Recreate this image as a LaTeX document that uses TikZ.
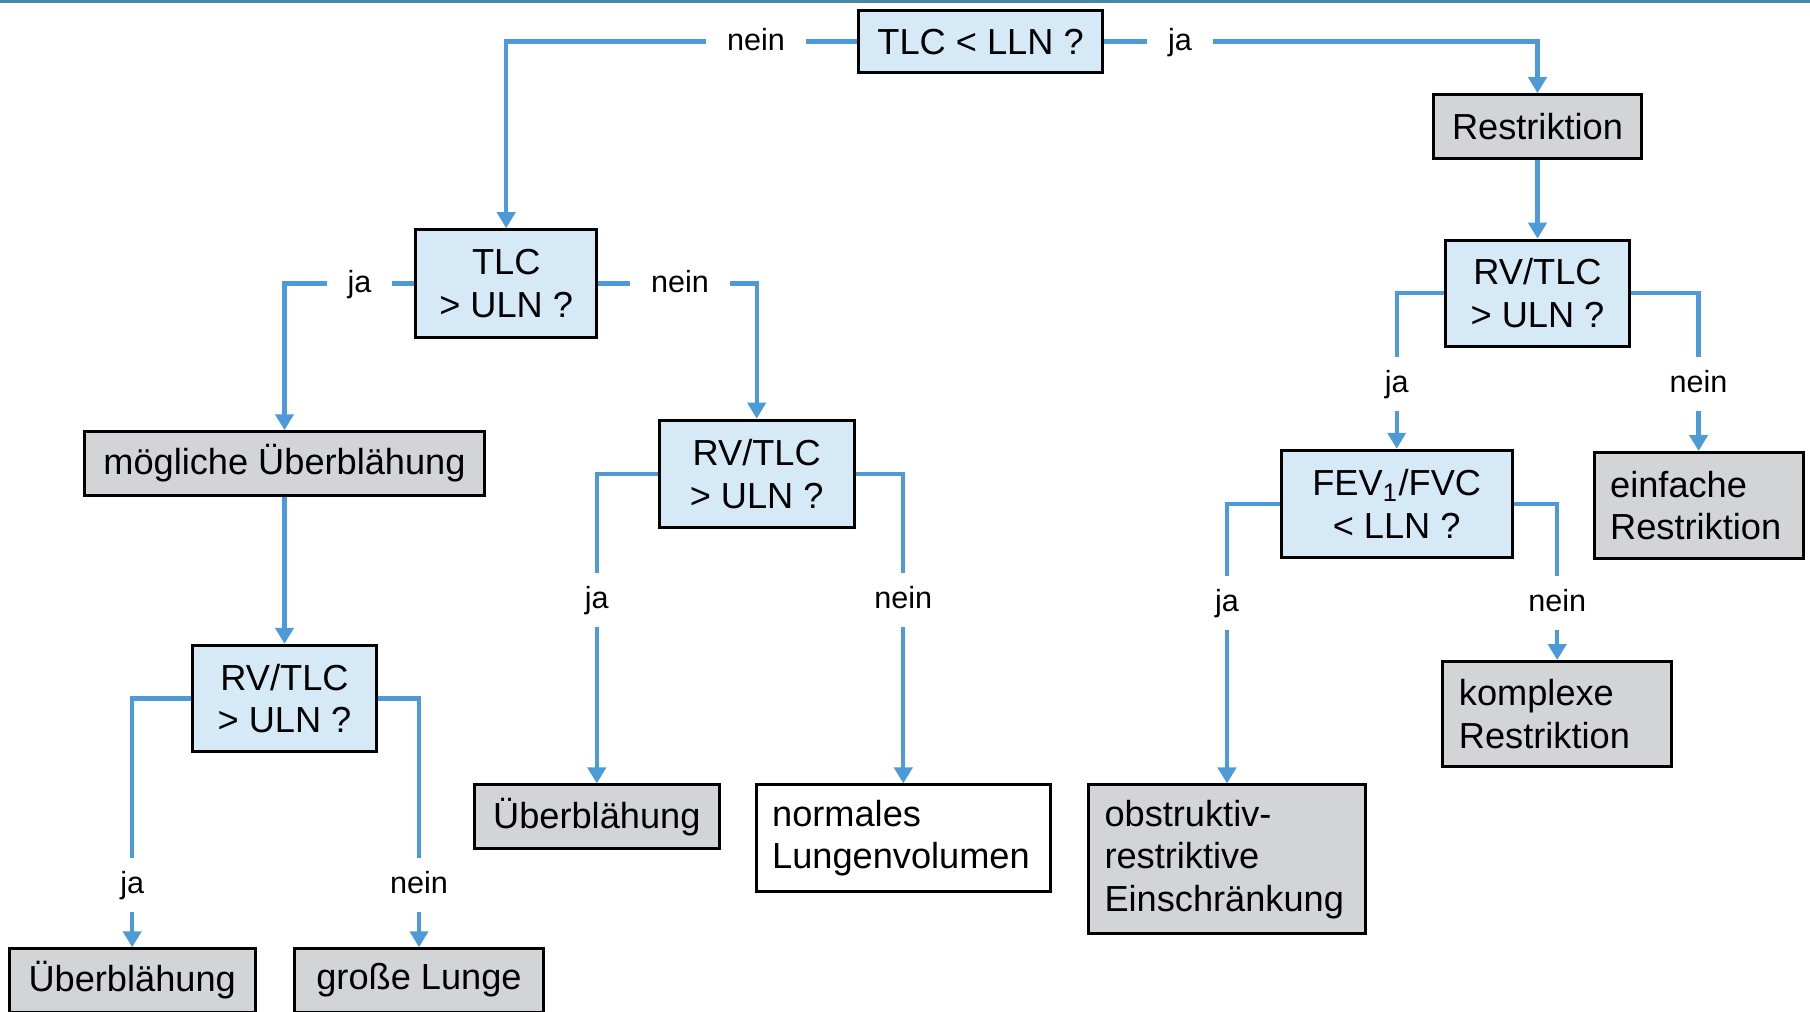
\documentclass[tikz,border=0pt]{standalone}
\usepackage{fontspec}
\setmainfont{Liberation Sans}
\usetikzlibrary{arrows.meta}
\definecolor{linienblau}{RGB}{76,154,216}
\definecolor{frageblau}{RGB}{214,233,247}
\definecolor{kastengrau}{RGB}{211,212,214}
\definecolor{randblau}{RGB}{70,132,168}
\tikzset{
  kasten/.style={draw=black, line width=0.3mm, inner xsep=1.6mm, inner ysep=0.8mm, font=\fontsize{10.3pt}{12.1pt}\selectfont},
  frage/.style={kasten, fill=frageblau, align=center},
  ergebnis/.style={kasten, fill=kastengrau, align=center},
  ergebnislinks/.style={kasten, fill=kastengrau, align=left},
  antwort/.style={inner xsep=2mm, inner ysep=1mm, text height=0.72em, text depth=0.22em, font=\fontsize{8.7pt}{10pt}\selectfont},
  linie/.style={color=linienblau, line width=0.43mm},
  pfeil/.style={linie, -{Triangle[width=1.8mm,length=1.6mm]}}
}
\begin{document}
\begin{tikzpicture}[x=0.1mm, y=-0.1mm]
  \useasboundingbox (0,0) rectangle (1810,1011);
  \fill[randblau] (0,0) rectangle (1810,2.5);
  \node[frage, minimum width=24.36mm, minimum height=6.23mm] (tlc) at (980.6,41.6) {TLC < LLN ?};
  \node[ergebnis, minimum width=20.78mm, minimum height=6.35mm] (restr) at (1537.5,126.4) {Restriktion};
  \node[frage, minimum width=18.47mm, minimum height=10.62mm] (rvR) at (1537.5,293.2) {RV/TLC\\> ULN ?};
  \node[frage, minimum width=23.09mm, minimum height=10.73mm] (fev) at (1396.7,503.9) {FEV\textsubscript{1}/FVC\\< LLN ?};
  \node[ergebnislinks, text width=17.69mm, minimum height=10.62mm] (einf) at (1698.6,505.6) {einfache\\Restriktion};
  \node[ergebnislinks, text width=19.65mm, minimum height=10.5mm] (kompl) at (1557.2,714) {komplexe\\Restriktion};
  \node[ergebnislinks, text width=24.5mm, minimum height=14.89mm] (obst) at (1227,859.4) {obstruktiv-\\restriktive\\Einschränkung};
  \node[frage, minimum width=18.13mm, minimum height=10.74mm] (tlcU) at (506.2,283.4) {TLC\\> ULN ?};
  \node[ergebnis, minimum width=39.94mm, minimum height=6.35mm] (moegl) at (284.5,463.5) {mögliche Überblähung};
  \node[frage, minimum width=18.47mm, minimum height=10.62mm] (rvL) at (284.5,698.4) {RV/TLC\\> ULN ?};
  \node[ergebnis, minimum width=24.59mm, minimum height=6.35mm] (ueberA) at (132.2,980.5) {Überblähung};
  \node[ergebnis, minimum width=24.94mm, minimum height=6.35mm] (gross) at (419,980.5) {große Lunge};
  \node[frage, minimum width=19.51mm, minimum height=10.73mm] (rvM) at (756.7,473.8) {RV/TLC\\> ULN ?};
  \node[ergebnis, minimum width=24.47mm, minimum height=6.35mm] (ueberB) at (596.8,816.7) {Überblähung};
  \node[kasten, fill=white, align=left, text width=26.23mm, minimum height=10.62mm] (normal) at (903.3,838) {normales\\Lungenvolumen};
  \node[antwort] (nein0) at (756,41.6) {nein};
  \node[antwort] (ja0) at (1180,41.6) {ja};
  \node[antwort] (jaU) at (359.6,283.4) {ja};
  \node[antwort] (neinU) at (680,283.4) {nein};
  \node[antwort] (jaR) at (1396.7,383.8) {ja};
  \node[antwort] (neinR) at (1698.6,383.8) {nein};
  \node[antwort] (jaF) at (1227,603) {ja};
  \node[antwort] (neinF) at (1557.2,603) {nein};
  \node[antwort] (jaM) at (596.8,600) {ja};
  \node[antwort] (neinM) at (903.3,600) {nein};
  \node[antwort] (jaL) at (132.2,885) {ja};
  \node[antwort] (neinL) at (419,885) {nein};
  \draw[linie] (tlc.west) -- (nein0.east);
  \draw[pfeil] (nein0.west) -| (tlcU.north);
  \draw[linie] (tlc.east) -- (ja0.west);
  \draw[pfeil] (ja0.east) -| (restr.north);
  \draw[pfeil] (restr.south) -- (rvR.north);
  \draw[linie] (rvR.west) -| (jaR.north);
  \draw[pfeil] (jaR.south) -- (fev.north);
  \draw[linie] (rvR.east) -| (neinR.north);
  \draw[pfeil] (neinR.south) -- (einf.north);
  \draw[linie] (fev.west) -| (jaF.north);
  \draw[pfeil] (jaF.south) -- (obst.north);
  \draw[linie] (fev.east) -| (neinF.north);
  \draw[pfeil] (neinF.south) -- (kompl.north);
  \draw[linie] (tlcU.west) -- (jaU.east);
  \draw[pfeil] (jaU.west) -| (moegl.north);
  \draw[linie] (tlcU.east) -- (neinU.west);
  \draw[pfeil] (neinU.east) -| (rvM.north);
  \draw[pfeil] (moegl.south) -- (rvL.north);
  \draw[linie] (rvL.west) -| (jaL.north);
  \draw[pfeil] (jaL.south) -- (ueberA.north);
  \draw[linie] (rvL.east) -| (neinL.north);
  \draw[pfeil] (neinL.south) -- (gross.north);
  \draw[linie] (rvM.west) -| (jaM.north);
  \draw[pfeil] (jaM.south) -- (ueberB.north);
  \draw[linie] (rvM.east) -| (neinM.north);
  \draw[pfeil] (neinM.south) -- (normal.north);
\end{tikzpicture}
\end{document}
